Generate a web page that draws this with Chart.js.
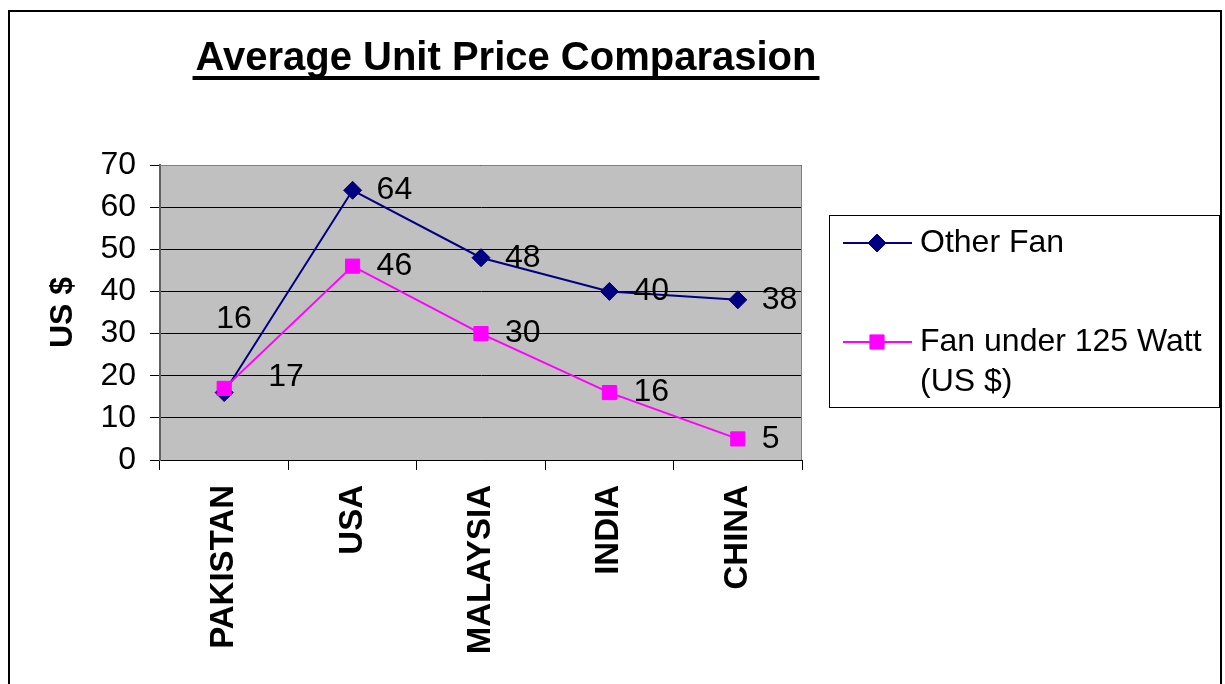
<!DOCTYPE html>
<html>
<head>
<meta charset="utf-8">
<script src="https://cdn.jsdelivr.net/npm/chart.js@4.4.1/dist/chart.umd.min.js"></script>
<style>
  html, body { margin: 0; padding: 0; background: #fff; }
  #wrap { width: 1225px; height: 684px; position: relative; }
</style>
</head>
<body>
<div id="wrap"><canvas id="priceChart"></canvas></div>
<script>
// dados
const countries = ['PAKISTAN', 'USA', 'MALAYSIA', 'INDIA', 'CHINA'];
const otherFan = [16, 64, 48, 40, 38];
const fanUnder125 = [17, 46, 30, 16, 5];
const seriesNames = ['Other Fan', 'Fan under 125 Watt (US $)'];
const yMin = 0, yMax = 70, yStep = 10;

const FONT = "'Liberation Sans', Arial, sans-serif";

// fundo cinza, moldura, título sublinhado
const frame = {
    id: 'frame',
    beforeDraw(chart) {
        const { ctx, chartArea: a } = chart;
        ctx.save();
        ctx.fillStyle = '#fff';
        ctx.fillRect(0, 0, chart.width, chart.height);
        ctx.fillStyle = '#c0c0c0';
        ctx.fillRect(a.left, a.top, a.right - a.left, a.bottom - a.top);
        ctx.restore();
    },
    afterDraw(chart) {
        const { ctx, chartArea: a } = chart;
        ctx.save();
        ctx.strokeStyle = '#808080';
        ctx.lineWidth = 1;
        ctx.beginPath();
        ctx.moveTo(a.left, a.top + 0.5);
        ctx.lineTo(a.right - 0.5, a.top + 0.5);
        ctx.lineTo(a.right - 0.5, a.bottom);
        ctx.stroke();

        ctx.strokeStyle = '#000';
        ctx.lineWidth = 2;
        ctx.strokeRect(9, 11, 1212, 700);

        // título
        const title = 'Average Unit Price Comparasion';
        ctx.font = 'bold 40px ' + FONT;
        ctx.fillStyle = '#000';
        ctx.textAlign = 'center';
        ctx.textBaseline = 'alphabetic';
        const cx = 506;
        ctx.fillText(title, cx, 70);
        const w = ctx.measureText(title).width;
        ctx.fillRect(cx - w / 2 - 3, 76, w + 6, 4);
        ctx.restore();
    }
};

// legenda com caixa
const boxLegend = {
    id: 'boxLegend',
    afterDraw(chart) {
        const ctx = chart.ctx;
        ctx.save();
        ctx.strokeStyle = '#000';
        ctx.lineWidth = 1;
        ctx.strokeRect(829.5, 215.5, 390, 192);
        ctx.font = '32px ' + FONT;
        ctx.fillStyle = '#000';
        ctx.textBaseline = 'middle';
        let y = 243;
        chart.data.datasets.forEach(ds => {
            ctx.strokeStyle = ds.borderColor;
            ctx.lineWidth = 2;
            ctx.beginPath();
            ctx.moveTo(843, y);
            ctx.lineTo(912, y);
            ctx.stroke();
            ctx.fillStyle = ds.backgroundColor;
            ctx.lineWidth = 1;
            Chart.helpers.drawPoint(ctx, {
                pointStyle: ds.pointStyle, radius: ds.pointRadius, rotation: 0, borderWidth: 1
            }, 877, y);
            // quebra de linha do texto
            const words = ds.label.split(' ');
            const lines = [];
            let line = '';
            words.forEach(wd => {
                const test = line ? line + ' ' + wd : wd;
                if (ctx.measureText(test).width > 298 && line) {
                    lines.push(line);
                    line = wd;
                } else line = test;
            });
            lines.push(line);
            ctx.fillStyle = '#000';
            lines.forEach((l, i) => ctx.fillText(l, 920, y + i * 40));
            y += 99;
        });
        ctx.restore();
    }
};

// rótulos de valores
const valueLabels = {
    id: 'valueLabels',
    afterDatasetsDraw(chart, args, opts) {
        const ctx = chart.ctx;
        ctx.save();
        ctx.font = '32px ' + FONT;
        ctx.fillStyle = '#000';
        ctx.textBaseline = 'middle';
        ctx.textAlign = 'left';
        chart.data.datasets.forEach((ds, di) => {
            chart.getDatasetMeta(di).data.forEach((pt, i) => {
                const n = (opts.nudge[di] && opts.nudge[di][i]) || [0, 0];
                ctx.fillText(String(ds.data[i]), pt.x + 24 + n[0], pt.y + n[1]);
            });
        });
        ctx.restore();
    }
};

const ctx = document.getElementById('priceChart').getContext('2d');
new Chart(ctx, {
    type: 'line',
    data: {
        labels: countries,
        datasets: [{
            label: seriesNames[0],
            data: otherFan,
            borderColor: '#000080',
            backgroundColor: '#000080',
            borderWidth: 2,
            pointStyle: 'rectRot',
            pointRadius: 9,
            pointBorderWidth: 1,
            order: 2,
            tension: 0
        }, {
            label: seriesNames[1],
            data: fanUnder125,
            borderColor: '#ff00ff',
            backgroundColor: '#ff00ff',
            borderWidth: 2,
            pointStyle: 'rect',
            pointRadius: 10,
            pointBorderWidth: 1,
            order: 1,
            tension: 0
        }]
    },
    options: {
        responsive: true,
        maintainAspectRatio: false,
        animation: false,
        layout: { padding: { left: 40, right: 423, top: 165, bottom: 26 } },
        plugins: {
            legend: { display: false },
            tooltip: { enabled: false },
            valueLabels: { nudge: { 0: { 0: [-32, -73] }, 1: { 0: [20, -11] } } }
        },
        scales: {
            x: {
                offset: true,
                grid: { drawOnChartArea: false, tickLength: 10, color: '#000', offset: true },
                border: { color: '#000', width: 1 },
                ticks: {
                    color: '#000', autoSkip: false, maxRotation: 90, minRotation: 90, padding: 15,
                    font: { family: FONT, size: 33, weight: 'bold' }
                },
                afterFit(scale) { scale.height = 198; }
            },
            y: {
                min: yMin, max: yMax,
                grid: { color: '#000', tickLength: 10 },
                border: { color: '#606060', width: 2 },
                ticks: {
                    stepSize: yStep, color: '#000', padding: 14,
                    font: { family: FONT, size: 32 }
                },
                title: {
                    display: true, text: 'US $', color: '#000',
                    font: { family: FONT, size: 32, weight: 'bold' },
                    padding: { top: 4, bottom: 18 }
                },
                afterFit(scale) { scale.width = 120; }
            }
        }
    },
    plugins: [frame, boxLegend, valueLabels]
});
</script>
</body>
</html>
